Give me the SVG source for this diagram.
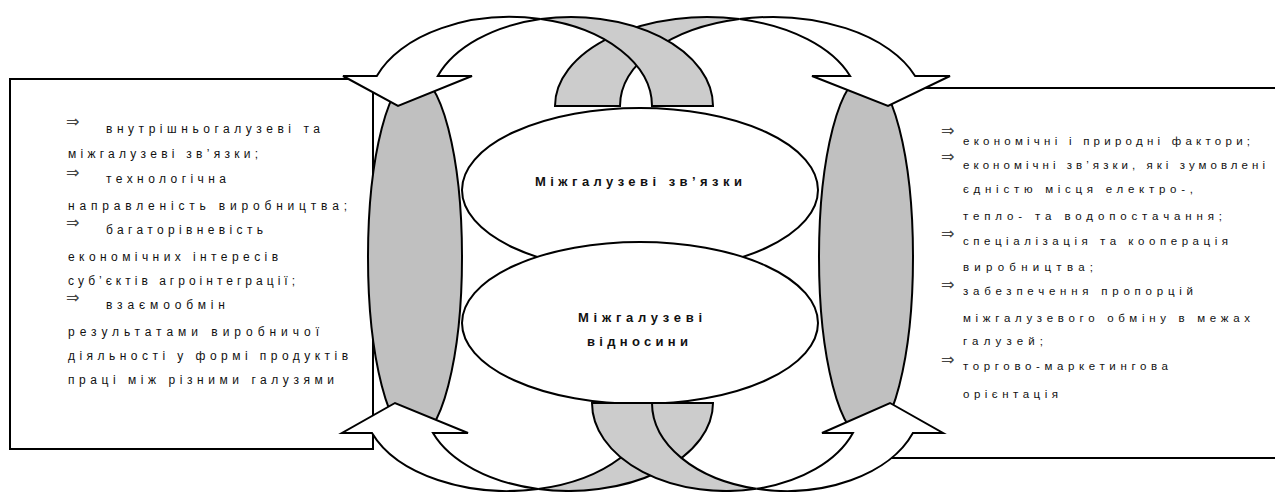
<svg xmlns="http://www.w3.org/2000/svg" width="1275" height="492" viewBox="0 0 1275 492">
<style>
.box{fill:#fff;stroke:#000;stroke-width:2}
.g{fill:#c0c0c0;stroke:#000;stroke-width:2}
.e{fill:#fff;stroke:#000;stroke-width:2}
.w{fill:#fff;stroke:#000;stroke-width:2;stroke-linejoin:miter}
.k{fill:#cccccc;stroke:#000;stroke-width:2}
.t{font-family:"Liberation Sans",Arial,sans-serif;font-size:12px;fill:#111}
.r{font-family:"Liberation Sans",Arial,sans-serif;font-size:11.5px;fill:#111}
.a{font-family:"DejaVu Sans",sans-serif;font-size:16px;fill:#444}
.c{font-family:"Liberation Sans",Arial,sans-serif;font-size:13px;font-weight:bold;fill:#111;text-anchor:middle}
</style>
<rect width="1275" height="492" fill="#fff"/>
<g id="left-box">
<rect class="box" x="10" y="79" width="363" height="370"/>
<text class="a" x="66" y="127">⇒</text>
<text class="t" x="106" y="133" textLength="214" lengthAdjust="spacing">внутрішньогалузеві та</text>
<text class="t" x="68" y="158" textLength="190" lengthAdjust="spacing">міжгалузеві зв’язки;</text>
<text class="a" x="66" y="178">⇒</text>
<text class="t" x="106" y="183" textLength="120" lengthAdjust="spacing">технологічна</text>
<text class="t" x="68" y="210" textLength="279" lengthAdjust="spacing">направленість виробництва;</text>
<text class="a" x="66" y="228">⇒</text>
<text class="t" x="106" y="234" textLength="157" lengthAdjust="spacing">багаторівневість</text>
<text class="t" x="68" y="261" textLength="210" lengthAdjust="spacing">економічних інтересів</text>
<text class="t" x="68" y="285" textLength="227" lengthAdjust="spacing">суб’єктів агроінтеграції;</text>
<text class="a" x="66" y="303">⇒</text>
<text class="t" x="106" y="309" textLength="119" lengthAdjust="spacing">взаємообмін</text>
<text class="t" x="68" y="336" textLength="251" lengthAdjust="spacing">результатами виробничої</text>
<text class="t" x="68" y="360" textLength="280" lengthAdjust="spacing">діяльності у формі продуктів</text>
<text class="t" x="68" y="384" textLength="266" lengthAdjust="spacing">праці між різними галузями</text>
</g>
<g id="right-box">
<rect class="box" x="875" y="88" width="420" height="370"/>
<text class="a" x="941" y="136">⇒</text>
<text class="r" x="963" y="145" textLength="287" lengthAdjust="spacing">економічні і природні фактори;</text>
<text class="a" x="941" y="162">⇒</text>
<text class="r" x="963" y="169" textLength="302" lengthAdjust="spacing">економічні зв’язки, які зумовлені</text>
<text class="r" x="963" y="193" textLength="230" lengthAdjust="spacing">єдністю місця електро-,</text>
<text class="r" x="963" y="220" textLength="259" lengthAdjust="spacing">тепло- та водопостачання;</text>
<text class="a" x="941" y="239">⇒</text>
<text class="r" x="963" y="245" textLength="265" lengthAdjust="spacing">спеціалізація та кооперація</text>
<text class="r" x="963" y="271" textLength="130" lengthAdjust="spacing">виробництва;</text>
<text class="a" x="941" y="290">⇒</text>
<text class="r" x="963" y="295" textLength="230" lengthAdjust="spacing">забезпечення пропорцій</text>
<text class="r" x="963" y="322" textLength="287" lengthAdjust="spacing">міжгалузевого обміну в межах</text>
<text class="r" x="963" y="345" textLength="80" lengthAdjust="spacing">галузей;</text>
<text class="a" x="941" y="365">⇒</text>
<text class="r" x="963" y="370" textLength="205" lengthAdjust="spacing">торгово-маркетингова</text>
<text class="r" x="963" y="398" textLength="95" lengthAdjust="spacing">орієнтація</text>
</g>
<g id="gray-left"><ellipse class="g" cx="415" cy="257" rx="47" ry="182"/></g>
<g id="gray-right"><ellipse class="g" cx="866" cy="257" rx="47" ry="182"/></g>
<g id="ellipse-links">
<ellipse class="e" cx="640" cy="190" rx="178" ry="82"/>
<text class="c" x="638.5" y="186" textLength="207" lengthAdjust="spacing">Міжгалузеві зв’язки</text>
</g>
<g id="ellipse-relations">
<ellipse class="e" cx="640" cy="323" rx="178" ry="81"/>
<text class="c" x="640" y="322" textLength="124" lengthAdjust="spacing">Міжгалузеві</text>
<text class="c" x="637.5" y="346" textLength="101" lengthAdjust="spacing">відносини</text>
</g>
<g id="connectors">
<g id="arrow-top-right">
<path class="k" d="M739.5 19.1 A152 89 0 0 0 555 106 L620 106 A152 89 0 0 1 739.5 19.1 Z"/>
<path class="w" d="M739.5 19.1 A152 89 0 0 1 915.1 76 L950 76 L888 106 L812 76 L850.1 76 A152 89 0 0 0 739.5 19.1 Z"/>
</g>
<g id="arrow-top-left">
<path class="k" d="M540.75 19.1 A141.75 89 0 0 1 713 106 L652 106 A141.75 89 0 0 0 540.75 19.1 Z"/>
<path class="w" d="M540.75 19.1 A141.75 89 0 0 0 376.8 76 L343 76 L398 106 L472 76 L437.8 76 A141.75 89 0 0 1 540.75 19.1 Z"/>
</g>
<g id="arrow-bottom-left">
<path class="k" d="M538.2 489 A144.3 88 0 0 0 713 403 L652 403 A144.3 88 0 0 1 538.2 489 Z"/>
<path class="w" d="M538.2 489 A144.3 88 0 0 1 372 433 L342 433 L395 403 L468 433 L433 433 A144.3 88 0 0 0 538.2 489 Z"/>
</g>
<g id="arrow-bottom-right">
<path class="k" d="M756.5 488.8 A134.5 88 0 0 1 592 403 L652 403 A134.5 88 0 0 0 756.5 488.8 Z"/>
<path class="w" d="M756.5 488.8 A134.5 88 0 0 0 912.9 433 L943 433 L890 403 L822 433 L852.9 433 A134.5 88 0 0 1 756.5 488.8 Z"/>
</g>
</g>
</svg>
